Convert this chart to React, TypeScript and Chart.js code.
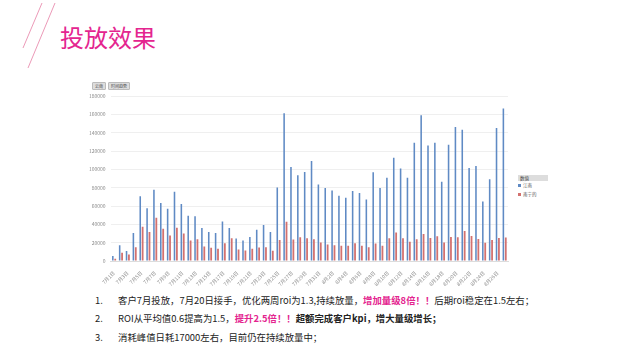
import React, { useEffect, useRef } from "react";
import { Chart, registerables } from "chart.js";

Chart.register(...registerables);

const categories = [
  "7月1日","7月2日","7月3日","7月4日","7月5日","7月6日","7月7日","7月8日","7月9日","7月10日",
  "7月11日","7月12日","7月13日","7月14日","7月15日","7月16日","7月17日","7月18日","7月19日","7月20日",
  "7月21日","7月22日","7月23日","7月24日","7月25日","7月26日","7月27日","7月28日","7月29日","7月30日",
  "7月31日","8月1日","8月2日","8月3日","8月4日","8月5日","8月6日","8月7日","8月8日","8月9日",
  "8月10日","8月11日","8月12日","8月13日","8月14日","8月15日","8月16日","8月17日","8月18日","8月19日",
  "8月20日","8月21日","8月22日","8月23日","8月24日","8月25日","8月26日","8月27日",
];

const seriesNames = ["江南", "南宁的"];

const blueValues = [
  5500, 17300, 10800, 30600, 70600, 57600, 77800, 63400, 56900, 75600,
  62300, 49300, 48800, 36000, 31700, 30600, 43200, 36000, 24500, 22300,
  26300, 34200, 39200, 31700, 80300, 161300, 102600, 93600, 97200, 109000,
  83500, 79600, 77000, 71300, 69100, 76300, 74200, 67000, 96800, 79600,
  90700, 112700, 101000, 90700, 128900, 159100, 126000, 128900, 86400, 126700,
  146200, 143300, 101500, 103700, 64800, 89300, 145100, 166300,
];

const redValues = [
  2500, 9000, 7200, 15100, 37400, 31700, 47200, 35300, 27700, 36400,
  29900, 22300, 23600, 15800, 14400, 13300, 19400, 24800, 12600, 11500,
  13300, 14800, 15100, 11200, 23000, 42800, 23400, 26000, 24800, 23800,
  20200, 18000, 17300, 16600, 16600, 19400, 16600, 15100, 19100, 16600,
  24800, 31000, 24800, 20900, 23800, 29500, 25200, 27000, 20200, 26300,
  25900, 32800, 27400, 24100, 19800, 23000, 25200, 25600,
];

const yMax = 180000;
const yStep = 20000;

const BLUE = "#5f8ac4";
const RED = "#d3716f";
const PINK = "#e4258f";

export default function App() {
  const canvasRef = useRef<HTMLCanvasElement | null>(null);

  useEffect(() => {
    if (!canvasRef.current) return;
    const chart = new Chart(canvasRef.current, {
      type: "bar",
      data: {
        labels: categories,
        datasets: [
          { label: seriesNames[0], data: blueValues, backgroundColor: BLUE, categoryPercentage: 0.7, barPercentage: 0.65 },
          { label: seriesNames[1], data: redValues, backgroundColor: RED, categoryPercentage: 0.7, barPercentage: 0.75 },
        ],
      },
      options: {
        animation: false,
        responsive: false,
        maintainAspectRatio: false,
        layout: { padding: { top: 6, right: 7, left: 0, bottom: 0 } },
        plugins: { legend: { display: false }, tooltip: { enabled: false }, title: { display: false } },
        scales: {
          x: {
            grid: { display: false },
            border: { display: true, color: "#dcdcdc" },
            ticks: {
              autoSkip: false,
              maxRotation: 45,
              minRotation: 45,
              padding: 1,
              color: "#8a8a8a",
              font: { size: 5, family: "Noto Sans CJK SC" },
              callback: (_v: any, i: number) => (i % 2 === 0 ? categories[i] : ""),
            },
            afterFit: (s: any) => { s.height = 29; },
          },
          y: {
            min: 0,
            max: yMax,
            grid: { color: "#efefef", lineWidth: 1, drawTicks: false },
            border: { display: false },
            ticks: {
              stepSize: yStep,
              padding: 5,
              color: "#8a8a8a",
              font: { size: 5, family: "Noto Sans CJK SC" },
              callback: (v: any) => String(v),
            },
            afterFit: (s: any) => { s.width = 25.6; },
          },
        },
      },
    });
    return () => chart.destroy();
  }, []);

  const font = '"Noto Sans CJK SC", "Noto Sans", sans-serif';
  const lineStyle: React.CSSProperties = {
    position: "absolute",
    left: 95,
    fontSize: 9.4,
    lineHeight: "14px",
    color: "#222",
    whiteSpace: "nowrap",
    fontFamily: font,
  };

  return (
    <div style={{ position: "fixed", left: 0, top: 0, width: 621, height: 352, background: "#fff", overflow: "hidden", fontFamily: font }}>
      <svg width={621} height={352} style={{ position: "absolute", left: 0, top: 0 }}>
        <line x1={42} y1={3} x2={23} y2={48} stroke="#ec9ab8" strokeWidth={1} />
        <line x1={55} y1={3} x2={28} y2={68} stroke="#ec9ab8" strokeWidth={1} />
      </svg>
      <div style={{ position: "absolute", left: 60, top: 22, fontSize: 24, color: PINK, lineHeight: "30px" }}>投放效果</div>

      <div style={{ position: "absolute", left: 92, top: 82, display: "flex", gap: 2 }}>
        <span style={{ fontSize: 4, background: "#ddd", border: "0.5px solid #bbb", borderRadius: 1, padding: "0 2px", lineHeight: "6px", color: "#444" }}>云南</span>
        <span style={{ fontSize: 4, background: "#ddd", border: "0.5px solid #bbb", borderRadius: 1, padding: "0 2px", lineHeight: "6px", color: "#444" }}>时间趋势</span>
      </div>

      <canvas ref={canvasRef} width={430} height={202} style={{ position: "absolute", left: 85, top: 88, width: 430, height: 202 }} />

      <div style={{ position: "absolute", left: 518, top: 175, width: 30 }}>
        <div style={{ fontSize: 4.5, background: "#ddd", lineHeight: "6px", padding: "0 2px", color: "#444" }}>数值</div>
        <div style={{ fontSize: 4.5, lineHeight: "9px", color: "#555", display: "flex", alignItems: "center" }}>
          <span style={{ width: 3, height: 3, background: BLUE, marginRight: 2, display: "inline-block" }} />{seriesNames[0]}
        </div>
        <div style={{ fontSize: 4.5, lineHeight: "9px", color: "#555", display: "flex", alignItems: "center" }}>
          <span style={{ width: 3, height: 3, background: RED, marginRight: 2, display: "inline-block" }} />{seriesNames[1]}
        </div>
      </div>

      <div style={{ ...lineStyle, top: 293 }}>
        <span style={{ display: "inline-block", width: 23 }}>1.</span>
        客户7月投放，7月20日接手，优化两周roi为1.3,持续放量，<b style={{ color: PINK }}>增加量级8倍！！</b>后期roi稳定在1.5左右；
      </div>
      <div style={{ ...lineStyle, top: 311 }}>
        <span style={{ display: "inline-block", width: 23 }}>2.</span>
        ROI从平均值0.6提高为1.5，<b style={{ color: PINK }}>提升2.5倍！！</b><b>超额完成客户kpi，增大量级增长；</b>
      </div>
      <div style={{ ...lineStyle, top: 330 }}>
        <span style={{ display: "inline-block", width: 23 }}>3.</span>
        消耗峰值日耗17000左右，目前仍在持续放量中；
      </div>
    </div>
  );
}
